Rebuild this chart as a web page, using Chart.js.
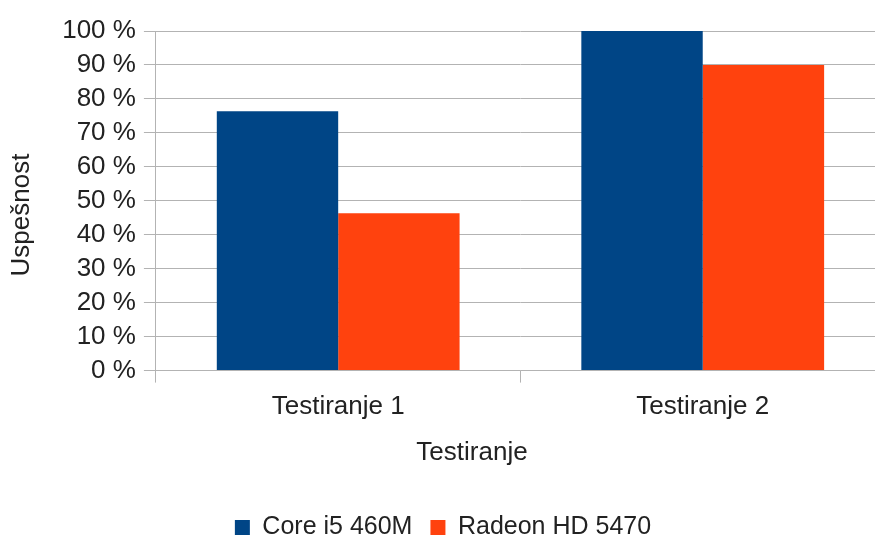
<!DOCTYPE html>
<html>
<head>
<meta charset="utf-8">
<script src="https://cdn.jsdelivr.net/npm/chart.js@4/dist/chart.umd.min.js"></script>
<style>
    html, body { margin: 0; padding: 0; background: #fff; overflow: hidden; }
    #wrap { width: 875px; height: 541px; overflow: hidden; }
</style>
</head>
<body>
<div id="wrap"><canvas id="chart" width="885" height="550"></canvas></div>
<script>
const categories = ['Testiranje 1', 'Testiranje 2']
const coreValues = [76.4, 100]
const radeonValues = [46.3, 90]
const seriesNames = ['Core i5 460M', 'Radeon HD 5470']
const yTicks = [0, 10, 20, 30, 40, 50, 60, 70, 80, 90, 100]

const textColor = '#222'
const gridColor = '#b3b3b3'
const fontFamily = '"Liberation Sans", Arial, sans-serif'

// axis titles drawn by hand, they are not centred on the plot in the original
const axisTitlePlugin = {
    id: 'axisTitles',
    afterDraw(chart) {
        const ctx = chart.ctx
        const xScale = chart.scales.x
        ctx.save()
        ctx.fillStyle = textColor
        ctx.font = '26px ' + fontFamily
        ctx.textAlign = 'center'
        ctx.textBaseline = 'middle'
        ctx.fillText('Testiranje', 472, xScale.bottom - 44)
        ctx.translate(22, chart.chartArea.top + 184)
        ctx.rotate(-Math.PI / 2)
        ctx.fillText('Uspešnost', 0, 0)
        ctx.restore()
    }
}

const ctx = document.getElementById('chart').getContext('2d')
new Chart(ctx, {
    type: 'bar',
    data: {
        labels: categories,
        datasets: [{
            label: seriesNames[0],
            data: coreValues,
            backgroundColor: '#004586',
            borderWidth: 0,
        }, {
            label: seriesNames[1],
            data: radeonValues,
            backgroundColor: '#ff420e',
            borderWidth: 0,
        }],
    },
    options: {
        responsive: false,
        animation: false,
        categoryPercentage: 0.666,
        barPercentage: 1,
        layout: {padding: {top: 31, left: 1, right: 0, bottom: 0}},
        plugins: {
            legend: {
                position: 'bottom',
                labels: {
                    boxWidth: 15,
                    boxHeight: 15,
                    padding: 18,
                    color: textColor,
                    font: {family: fontFamily, size: 25},
                },
            },
            tooltip: {enabled: false},
        },
        scales: {
            x: {
                grid: {drawOnChartArea: false, drawTicks: true, tickLength: 12, color: gridColor},
                border: {color: gridColor},
                ticks: {color: textColor, padding: 9, font: {family: fontFamily, size: 26}},
                title: {
                    display: true,
                    text: 'Testiranje',
                    color: 'rgba(0,0,0,0)',
                    padding: {top: 16, bottom: 18},
                    font: {family: fontFamily, size: 26},
                },
            },
            y: {
                min: 0,
                max: 100,
                afterBuildTicks: (axis) => { axis.ticks = yTicks.map(v => ({value: v})) },
                grid: {color: gridColor, tickLength: 12},
                border: {color: gridColor},
                ticks: {
                    color: textColor,
                    padding: 8,
                    autoSkip: false,
                    font: {family: fontFamily, size: 26},
                    callback: (v) => v + ' %',
                },
                title: {
                    display: true,
                    text: 'Uspešnost',
                    color: 'rgba(0,0,0,0)',
                    padding: {top: 4, bottom: 18},
                    font: {family: fontFamily, size: 26},
                },
            },
        },
    },
    plugins: [axisTitlePlugin],
})
</script>
</body>
</html>
